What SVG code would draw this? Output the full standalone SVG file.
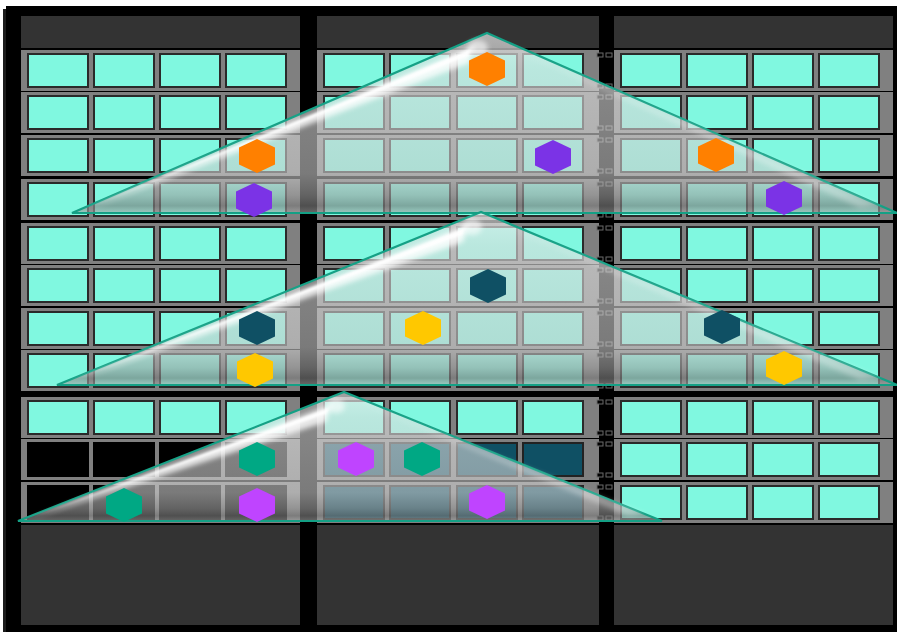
<svg xmlns="http://www.w3.org/2000/svg" xmlns:xlink="http://www.w3.org/1999/xlink" width="897" height="632" viewBox="0 0 897 632">
<defs>
<style>
.band{fill:#808080}
.cell{fill:#80F8E0;stroke:#2a2a2a;stroke-width:2}
.dcell{fill:#000}
.tcell{fill:#0F5064;stroke:#222;stroke-width:2}
.hdr{fill:#333333}
.tri{fill:url(#glass);stroke:#14A085;stroke-width:2.2;stroke-linejoin:miter}
.hl{fill:#ffffff;opacity:0.8;filter:url(#blur)}
.core{fill:#ffffff;opacity:0.95;filter:url(#blur1)}
.hlr{fill:#ffffff;opacity:0.3;filter:url(#blur)}
.glow{fill:#ffffff;opacity:0.6;filter:url(#blur)}
.ear{fill:#000;stroke:#6a6a6a;stroke-width:1}
.orange{fill:#FF8000}
.purple{fill:#7B33E6}
.navy{fill:#0F5064}
.yellow{fill:#FFC800}
.green{fill:#00A884}
.magenta{fill:#BF44FF}
</style>
<linearGradient id="glass" x1="0" y1="0" x2="0" y2="1">
<stop offset="0" stop-color="#eeeeee" stop-opacity="0.68"/>
<stop offset="0.2" stop-color="#dddddd" stop-opacity="0.62"/>
<stop offset="0.78" stop-color="#cccccc" stop-opacity="0.6"/>
<stop offset="0.9" stop-color="#a0a0a0" stop-opacity="0.62"/>
<stop offset="0.96" stop-color="#7a7a7a" stop-opacity="0.65"/>
<stop offset="1" stop-color="#aaaaaa" stop-opacity="0.6"/>
</linearGradient>
<filter id="blur" x="-20%" y="-50%" width="140%" height="200%"><feGaussianBlur stdDeviation="2.5"/></filter>
<filter id="blur1" x="-20%" y="-50%" width="140%" height="200%"><feGaussianBlur stdDeviation="0.8"/></filter>
<polygon id="hex" points="0,-17 18,-8.5 18,8.5 0,17 -18,8.5 -18,-8.5"/>
<g id="rowA">
<rect class="band" width="279" height="41"/>
<rect class="cell" x="7" y="4" width="60" height="33"/>
<rect class="cell" x="73" y="4" width="60" height="33"/>
<rect class="cell" x="139" y="4" width="60" height="33"/>
<rect class="cell" x="205" y="4" width="60" height="33"/>
</g>
<g id="rowB">
<rect class="band" width="282" height="41"/>
<rect class="cell" x="7" y="4" width="60" height="33"/>
<rect class="cell" x="73" y="4" width="60" height="33"/>
<rect class="cell" x="140" y="4" width="60" height="33"/>
<rect class="cell" x="206" y="4" width="60" height="33"/>
</g>
<g id="rowBlack">
<rect class="band" width="279" height="41"/>
<rect class="dcell" x="6" y="3" width="62" height="35"/>
<rect class="dcell" x="72" y="3" width="62" height="35"/>
<rect class="dcell" x="138" y="3" width="62" height="35"/>
<rect class="dcell" x="204" y="3" width="62" height="35"/>
</g>
<g id="rowTeal">
<rect class="band" width="282" height="41"/>
<rect class="tcell" x="7" y="4" width="60" height="33"/>
<rect class="tcell" x="73" y="4" width="60" height="33"/>
<rect class="tcell" x="140" y="4" width="60" height="33"/>
<rect class="tcell" x="206" y="4" width="60" height="33"/>
</g>
<g id="ears">
<rect class="ear" x="0" y="3" width="6" height="4"/>
<rect class="ear" x="9" y="3" width="6" height="4"/>
<rect class="ear" x="0" y="34" width="6" height="4"/>
<rect class="ear" x="9" y="34" width="6" height="4"/>
</g>
</defs>

<rect x="0" y="0" width="897" height="632" fill="#ffffff"/>
<rect x="3" y="9" width="4" height="623" fill="#1c1c1c"/>
<rect x="6" y="6" width="891" height="626" fill="#000000"/>

<g id="panel-1">
<rect class="hdr" x="21" y="16" width="279" height="32"/>
<use xlink:href="#rowA" x="21" y="50"/>
<use xlink:href="#rowA" x="21" y="92"/>
<use xlink:href="#rowA" x="21" y="135"/>
<use xlink:href="#rowA" x="21" y="179"/>
<use xlink:href="#rowA" x="21" y="223"/>
<use xlink:href="#rowA" x="21" y="265"/>
<use xlink:href="#rowA" x="21" y="308"/>
<use xlink:href="#rowA" x="21" y="350"/>
<use xlink:href="#rowA" x="21" y="397"/>
<use xlink:href="#rowBlack" x="21" y="439"/>
<use xlink:href="#rowBlack" x="21" y="482"/>
<rect class="hdr" x="21" y="525" width="279" height="100"/>
</g>

<g id="panel-2">
<rect class="hdr" x="317" y="16" width="282" height="32"/>
<use xlink:href="#rowB" x="317" y="50"/>
<use xlink:href="#rowB" x="317" y="92"/>
<use xlink:href="#rowB" x="317" y="135"/>
<use xlink:href="#rowB" x="317" y="179"/>
<use xlink:href="#rowB" x="317" y="223"/>
<use xlink:href="#rowB" x="317" y="265"/>
<use xlink:href="#rowB" x="317" y="308"/>
<use xlink:href="#rowB" x="317" y="350"/>
<use xlink:href="#rowB" x="317" y="397"/>
<use xlink:href="#rowTeal" x="317" y="439"/>
<use xlink:href="#rowTeal" x="317" y="482"/>
<rect class="hdr" x="317" y="525" width="282" height="100"/>
</g>

<g id="panel-3">
<rect class="hdr" x="614" y="16" width="279" height="32"/>
<use xlink:href="#rowA" x="614" y="50"/>
<use xlink:href="#rowA" x="614" y="92"/>
<use xlink:href="#rowA" x="614" y="135"/>
<use xlink:href="#rowA" x="614" y="179"/>
<use xlink:href="#rowA" x="614" y="223"/>
<use xlink:href="#rowA" x="614" y="265"/>
<use xlink:href="#rowA" x="614" y="308"/>
<use xlink:href="#rowA" x="614" y="350"/>
<use xlink:href="#rowA" x="614" y="397"/>
<use xlink:href="#rowA" x="614" y="439"/>
<use xlink:href="#rowA" x="614" y="482"/>
<rect class="hdr" x="614" y="525" width="279" height="100"/>
</g>

<g id="ears-2">
<use xlink:href="#ears" x="597" y="50"/>
<use xlink:href="#ears" x="597" y="92"/>
<use xlink:href="#ears" x="597" y="135"/>
<use xlink:href="#ears" x="597" y="179"/>
<use xlink:href="#ears" x="597" y="223"/>
<use xlink:href="#ears" x="597" y="265"/>
<use xlink:href="#ears" x="597" y="308"/>
<use xlink:href="#ears" x="597" y="350"/>
<use xlink:href="#ears" x="597" y="397"/>
<use xlink:href="#ears" x="597" y="439"/>
<use xlink:href="#ears" x="597" y="482"/>
</g>

<g id="pyramid-1">
<polygon class="tri" points="72,213 487,33 897,213"/>
<polygon class="hl" points="84,211 475,45 469,63"/>
<polygon class="core" points="80,211 471,49 468,56"/>
<ellipse class="glow" cx="478" cy="48" rx="10" ry="8"/>
<polygon class="hlr" points="495,40 880,206 860,208"/>
</g>
<g id="pyramid-2">
<polygon class="tri" points="57,385 481,212 897,385"/>
<polygon class="hl" points="69,383 469,224 463,242"/>
<polygon class="core" points="65,383 465,228 462,235"/>
<ellipse class="glow" cx="472" cy="227" rx="10" ry="8"/>
<polygon class="hlr" points="489,219 880,378 860,380"/>
</g>
<g id="pyramid-3">
<polygon class="tri" points="18,521 344,392 662,521"/>
<polygon class="hl" points="30,519 332,404 326,422"/>
<polygon class="core" points="26,519 329,408 326,414"/>
<ellipse class="glow" cx="336" cy="406" rx="9" ry="7"/>
<polygon class="hlr" points="352,399 645,514 628,516"/>
</g>

<g id="hexes">
<use xlink:href="#hex" class="orange" x="487" y="69"/>
<use xlink:href="#hex" class="orange" x="257" y="156"/>
<use xlink:href="#hex" class="purple" x="553" y="157"/>
<use xlink:href="#hex" class="orange" x="716" y="155"/>
<use xlink:href="#hex" class="purple" x="254" y="200"/>
<use xlink:href="#hex" class="purple" x="784" y="198"/>
<use xlink:href="#hex" class="navy" x="488" y="286"/>
<use xlink:href="#hex" class="navy" x="257" y="328"/>
<use xlink:href="#hex" class="yellow" x="423" y="328"/>
<use xlink:href="#hex" class="navy" x="722" y="327"/>
<use xlink:href="#hex" class="yellow" x="255" y="370"/>
<use xlink:href="#hex" class="yellow" x="784" y="368"/>
<use xlink:href="#hex" class="green" x="257" y="459"/>
<use xlink:href="#hex" class="green" x="124" y="505"/>
<use xlink:href="#hex" class="magenta" x="257" y="505"/>
<use xlink:href="#hex" class="magenta" x="356" y="459"/>
<use xlink:href="#hex" class="green" x="422" y="459"/>
<use xlink:href="#hex" class="magenta" x="487" y="502"/>
</g>
</svg>
